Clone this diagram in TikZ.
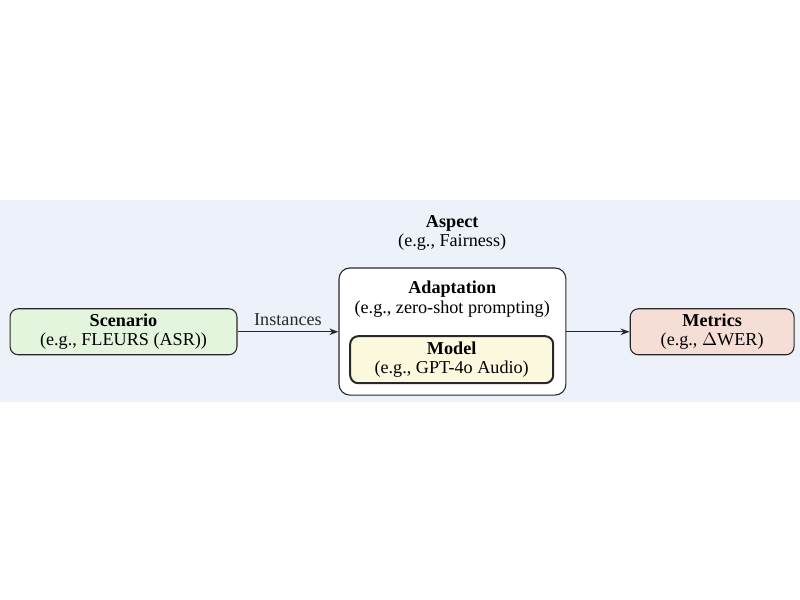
\documentclass[tikz,border=0pt]{standalone}
\usepackage{fontspec}
\setmainfont{Liberation Serif}
\usetikzlibrary{arrows.meta, positioning, fit, backgrounds}
\usepackage{xcolor}
\definecolor{bgblue}{RGB}{237,242,250}
\definecolor{scgreen}{RGB}{227,245,221}
\definecolor{mdyellow}{RGB}{253,249,223}
\definecolor{mtpink}{RGB}{246,222,215}
\definecolor{edge}{RGB}{40,40,40}

\begin{document}
\begin{tikzpicture}[
  font=\fontsize{10}{10.6}\selectfont,
  box/.style={draw=edge,line width=0.6pt,rounded corners=4.5pt,
              minimum height=0.89cm,inner sep=2pt,align=center},
  txt/.style={align=center,inner sep=1pt},
  arr/.style={-{Stealth[length=5pt,width=3.6pt]},edge,line width=0.75pt}
]
\useasboundingbox (0,0) rectangle (15.48,-11.61);
\fill[bgblue] (0,-3.87) rectangle (15.48,-7.78);

\node[txt] (aspect) at (8.75,-4.51) {\textbf{Aspect}\\(e.g., Fairness)};

\node[box,fill=scgreen,minimum width=4.39cm] (scenario) at (2.39,-6.42)
  {\textbf{Scenario}\\(e.g., FLEURS (ASR))};
\node[box,fill=white,minimum width=4.39cm,minimum height=2.46cm,
      rounded corners=6pt] (adaptbox) at (8.755,-6.415) {};
\node[txt] (adapt) at (8.75,-5.79) {\textbf{Adaptation}\\(e.g., zero-shot prompting)};
\node[box,fill=mdyellow,line width=1.1pt,minimum width=3.93cm,minimum height=0.91cm]
  (model) at (8.74,-6.96) {\textbf{Model}\\(e.g., GPT-4o Audio)};
\node[box,fill=mtpink,minimum width=3.17cm] (metrics) at (13.78,-6.42)
  {\textbf{Metrics}\\(e.g., $\Delta$WER)};

\draw[arr] (scenario.east) -- (scenario.east -| adaptbox.west)
  node[midway,above,inner sep=3pt]{Instances};
\draw[arr] (adaptbox.east |- metrics.west) -- (metrics.west);
\end{tikzpicture}
\end{document}
